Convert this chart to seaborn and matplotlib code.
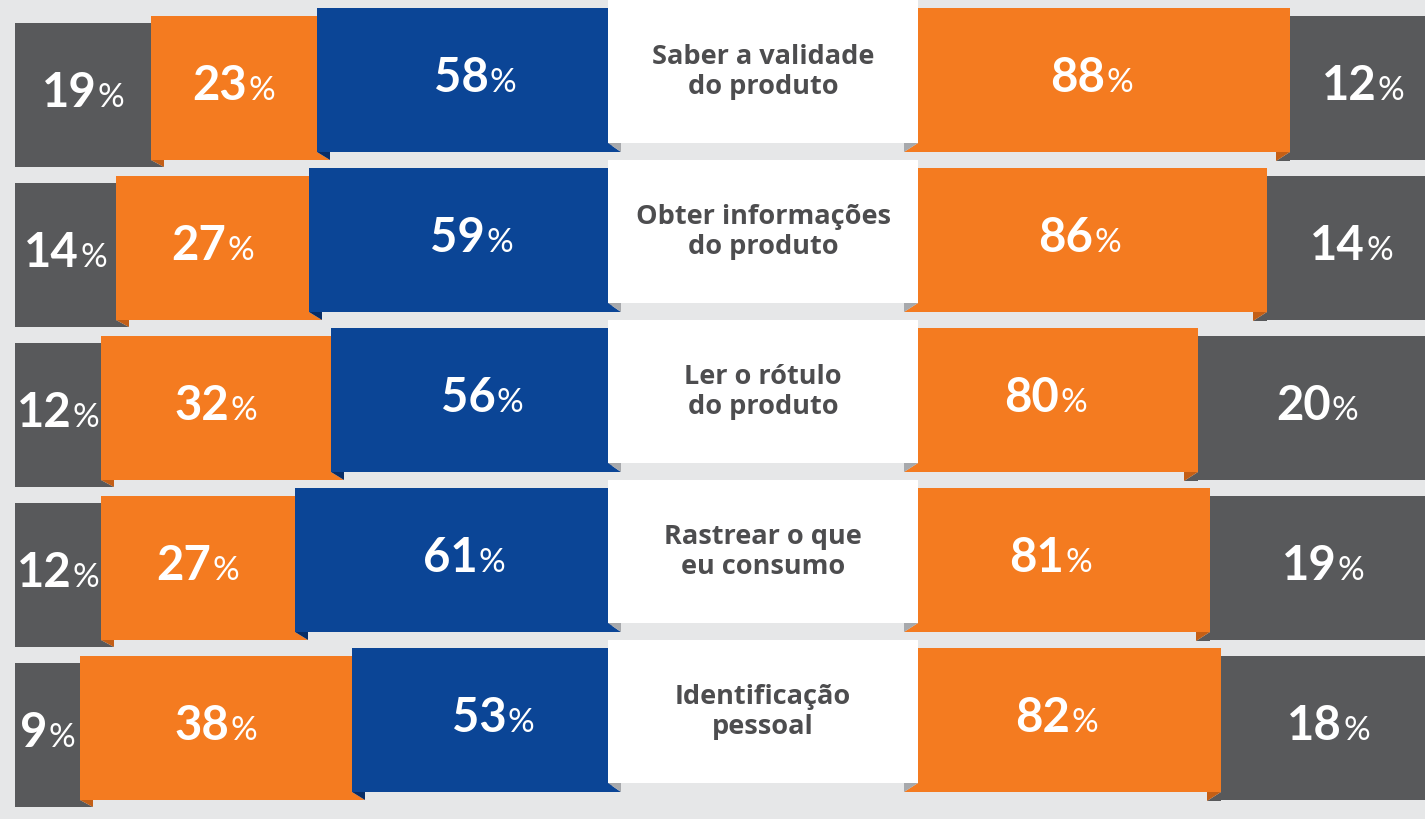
import pandas as pd
import seaborn as sns
import matplotlib.pyplot as plt
from matplotlib.offsetbox import TextArea, HPacker, AnnotationBbox

items = ['Saber a validade\ndo produto', 'Obter informações\ndo produto',
         'Ler o rótulo\ndo produto', 'Rastrear o que\neu consumo',
         'Identificação\npessoal']
left_blue = [58, 59, 56, 61, 53]
left_orange = [23, 27, 32, 27, 38]
left_gray = [19, 14, 12, 12, 9]
right_orange = [88, 86, 80, 81, 82]
right_gray = [12, 14, 20, 19, 18]

BG = '#e6e7e8'
BLUE = '#0b4596'
ORANGE = '#f47b20'
GRAY = '#58595b'
TXT = '#4d4d4f'
DK_BLUE = '#082d66'
DK_ORANGE = '#c45f16'
FOLD = '#a7a9ac'

sns.set_theme(style='white')
plt.rcParams['font.family'] = ['Lato', 'DejaVu Sans']

df = pd.DataFrame({'pos': range(len(items)), 'item': items,
                   'blue': left_blue, 'lorange': left_orange, 'lgray': left_gray,
                   'rorange': right_orange, 'rgray': right_gray})

W, H = 1425, 819
fig = plt.figure(figsize=(W / 100, H / 100), dpi=100, facecolor=BG)

# rows: first centre at 80px, 160px apart
ylim = ((H - 80) / 160, -80 / 160)
HB = 0.9          # bar height
OFF = 0.047       # step down of each next segment

# left block: 7.18 px per %, origin hidden under the label column
LS, LO = 7.18, 733
RS, RO = 11.5, 278
axl = fig.add_axes([0, 0, 612 / W, 1])
axr = fig.add_axes([918 / W, 0, 1 - 918 / W, 1])
axm = fig.add_axes([608 / W, 0, 310 / W, 1])

sns.barplot(data=df, x='blue', y='pos', orient='h', native_scale=True,
            color=BLUE, saturation=1, width=HB, linewidth=0, errorbar=None, ax=axl)
axl.barh(df['pos'] + OFF, df['lorange'], left=df['blue'], height=HB,
         color=ORANGE, linewidth=0)
axl.barh(df['pos'] + 2 * OFF, df['lgray'], left=df['blue'] + df['lorange'],
         height=HB, color=GRAY, linewidth=0)
axl.set_xlim(LO / LS, (LO - 612) / LS)

sns.barplot(data=df, x='rorange', y='pos', orient='h', native_scale=True,
            color=ORANGE, saturation=1, width=HB, linewidth=0, errorbar=None, ax=axr)
axr.barh(df['pos'] + 0.05, df['rgray'], left=df['rorange'], height=HB,
         color=GRAY, linewidth=0)
axr.set_xlim((918 - RO) / RS, (W - RO) / RS)

axm.barh(df['pos'] - 0.053, 1, height=0.894, color='white', linewidth=0)
axm.set_xlim(0, 1)
for p, t in zip(df['pos'], df['item']):
    axm.text(0.5, p - 0.053, t, ha='center', va='center', fontsize=19.5,
             fontweight='bold', color=TXT, linespacing=1.2,
             family=['Open Sans', 'DejaVu Sans'])


def fold(ax, x, y, dx, dy, dark, under):
    # small folded corner under the end of a ribbon
    ax.fill([x, x, x + dx], [y, y + dy, y + dy], color=under, lw=0, zorder=3)
    ax.fill([x, x + dx, x + dx], [y, y, y + dy], color=dark, lw=0, zorder=3)


dl = 13 / LS
dr = 14 / RS
for _, r in df.iterrows():
    p = r['pos']
    fold(axl, r['blue'], p + HB / 2, -dl, OFF, DK_BLUE, ORANGE)
    fold(axl, r['blue'] + r['lorange'], p + OFF + HB / 2, -dl, OFF, DK_ORANGE, GRAY)
    fold(axr, r['rorange'], p + HB / 2, -dr, 0.056, DK_ORANGE, GRAY)
    fold(axm, 0, p - 0.053 + 0.447, 13 / 310, 0.056, FOLD, BLUE)
    fold(axm, 1, p - 0.053 + 0.447, -14 / 310, 0.056, FOLD, ORANGE)

for ax in (axl, axr, axm):
    ax.set_ylim(*ylim)
    ax.set_axis_off()
    ax.set_facecolor('none')


def pct(ax, x, y, v):
    num = TextArea(str(v), textprops=dict(fontsize=34, fontweight='bold', color='white'))
    sign = TextArea('%', textprops=dict(fontsize=24, fontweight='normal', color='white'))
    box = HPacker(children=[num, sign], align='baseline', pad=0, sep=1)
    ab = AnnotationBbox(box, (x, y), frameon=False, box_alignment=(0.5, 0.5),
                        xycoords='data', annotation_clip=False)
    ab.set_zorder(5)
    ax.add_artist(ab)


lvis = (LO - 612) / LS
rvis_l, rvis_r = (918 - RO) / RS, (W - RO) / RS
for _, r in df.iterrows():
    p = r['pos']
    pct(axl, (r['blue'] + lvis) / 2 - 1.5, p - 0.01, r['blue'])
    pct(axl, r['blue'] + r['lorange'] / 2, p + OFF - 0.01, r['lorange'])
    pct(axl, r['blue'] + r['lorange'] + r['lgray'] / 2, p + 2 * OFF - 0.01, r['lgray'])
    pct(axr, (r['rorange'] + rvis_l) / 2 - 1.1, p - 0.01, r['rorange'])
    pct(axr, (r['rorange'] + rvis_r) / 2 + 0.5, p + 0.04, r['rgray'])

fig.savefig('out.png', dpi=100, facecolor=BG)
